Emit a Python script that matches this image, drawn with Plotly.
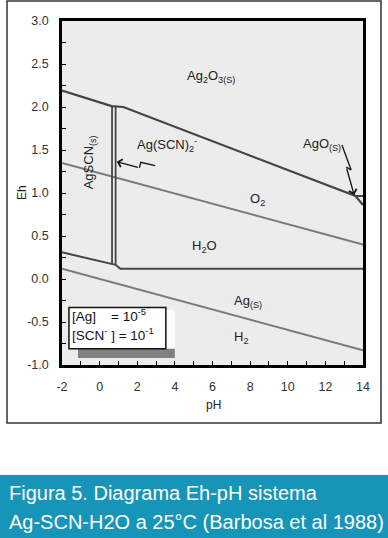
import plotly.graph_objects as go

# ---- data (pH, Eh) ----
upper_ph = [-2, 0.64, 1.26, 13.6, 14]
upper_eh = [2.19, 2.01, 2.0, 0.965, 0.86]
ago_ph = [13.6, 14]
ago_eh = [0.965, 0.965]
vert1_ph = [0.66, 0.66]
vert1_eh = [2.01, 0.175]
vert2_ph = [0.85, 0.85]
vert2_eh = [2.0, 0.165]
lower_ph = [-2, 0.66, 0.85, 1.1, 14]
lower_eh = [0.31, 0.18, 0.165, 0.12, 0.12]
o2_ph = [-2, 14]
o2_eh = [1.35, 0.40]
h2_ph = [-2, 14]
h2_eh = [0.12, -0.83]

arrow1_ph = [2.95, 2.19, 2.11]
arrow1_eh = [1.317, 1.357, 1.294]
arrow1_tip = (0.91, 1.364)
arrow2_ph = [12.88, 13.37, 13.11]
arrow2_eh = [1.558, 1.267, 1.302]
arrow2_tip = (13.53, 0.977)

labels = [
    ("Ag<sub>2</sub>O<sub>3(S)</sub>", 5.9, 2.35),
    ("Ag(SCN)<sub>2</sub><sup>-</sup>", 3.6, 1.56),
    ("AgO<sub>(S)</sub>", 11.8, 1.56),
    ("O<sub>2</sub>", 8.4, 0.93),
    ("H<sub>2</sub>O", 5.6, 0.38),
    ("Ag<sub>(S)</sub>", 7.9, -0.26),
    ("H<sub>2</sub>", 7.5, -0.68),
]

x_ticks = [-2, 0, 2, 4, 6, 8, 10, 12, 14]
y_ticks = [-1.0, -0.5, 0.0, 0.5, 1.0, 1.5, 2.0, 2.5, 3.0]

DARK = "#454545"
GRAY = "#7a7a7a"
FONT = "Arial, Liberation Sans"

fig = go.Figure()

def line(xs, ys, color, w):
    fig.add_trace(go.Scatter(x=xs, y=ys, mode="lines", line=dict(color=color, width=w),
                             showlegend=False, hoverinfo="skip", cliponaxis=False))

line(o2_ph, o2_eh, GRAY, 2)
line(h2_ph, h2_eh, GRAY, 2)
line(upper_ph, upper_eh, DARK, 2.2)
line(ago_ph, ago_eh, DARK, 2)
line(vert1_ph, vert1_eh, DARK, 1.8)
line(vert2_ph, vert2_eh, DARK, 1.8)
line(lower_ph, lower_eh, DARK, 2)
line(arrow1_ph, arrow1_eh, "#111", 1.3)
line(arrow2_ph, arrow2_eh, "#111", 1.3)

ann = []
# arrow heads
ann.append(dict(x=arrow1_tip[0], y=arrow1_tip[1], ax=arrow1_ph[-1], ay=arrow1_eh[-1],
                xref="x", yref="y", axref="x", ayref="y", showarrow=True, arrowhead=4,
                arrowsize=1.2, arrowwidth=1.3, arrowcolor="#111", text=""))
ann.append(dict(x=arrow2_tip[0], y=arrow2_tip[1], ax=arrow2_ph[-1], ay=arrow2_eh[-1],
                xref="x", yref="y", axref="x", ayref="y", showarrow=True, arrowhead=4,
                arrowsize=1.2, arrowwidth=1.3, arrowcolor="#111", text=""))

for t, x, y in labels:
    ann.append(dict(x=x, y=y, text=t, showarrow=False, xref="x", yref="y",
                    xanchor="center", yanchor="middle",
                    font=dict(family=FONT, size=13, color="#222")))
ann.append(dict(x=-0.55, y=1.36, text="AgSCN<sub>(s)</sub>", textangle=-90, showarrow=False,
                xanchor="center", yanchor="middle",
                xref="x", yref="y", font=dict(family=FONT, size=13, color="#222")))

# legend box text
ann.append(dict(x=-1.55, y=-0.42, text="[Ag]    = 10<sup>-5</sup>", showarrow=False,
                xanchor="left", yanchor="middle",
                xref="x", yref="y", font=dict(family=FONT, size=13.5, color="#111")))
ann.append(dict(x=-1.55, y=-0.64, text="[SCN<sup>-</sup> ] = 10<sup>-1</sup>", showarrow=False,
                xanchor="left", yanchor="middle",
                xref="x", yref="y", font=dict(family=FONT, size=13.5, color="#111")))

# axis titles
ann.append(dict(x=(22 - 62) / 301, y=(365 - 193) / 344, xref="paper", yref="paper", text="Eh",
                xanchor="center", yanchor="middle",
                textangle=-90, showarrow=False, font=dict(family=FONT, size=12, color="#222")))
ann.append(dict(x=(213 - 62) / 301, y=(365 - 405) / 344, xref="paper", yref="paper", text="pH",
                xanchor="center", yanchor="middle",
                showarrow=False, font=dict(family=FONT, size=12, color="#222")))

# caption
ann.append(dict(x=(7 - 62) / 301, y=(365 - 493) / 344, xref="paper", yref="paper",
                xanchor="left", yanchor="middle",
                text="Figura 5. Diagrama Eh-pH sistema", showarrow=False,
                font=dict(family=FONT, size=20, color="white")))
ann.append(dict(x=(7 - 62) / 301, y=(365 - 522) / 344, xref="paper", yref="paper",
                xanchor="left", yanchor="middle",
                text="Ag-SCN-H2O a 25°C (Barbosa et al 1988)", showarrow=False,
                font=dict(family=FONT, size=20, color="white")))

shapes = [
    # outer frame
    dict(type="rect", xref="paper", yref="paper", x0=(7 - 62) / 301, x1=(381 - 62) / 301,
         y0=(365 - 423) / 344, y1=(365 - 1) / 344, line=dict(color="#333", width=1.5),
         fillcolor="rgba(0,0,0,0)", layer="below"),
    # caption band
    dict(type="rect", xref="paper", yref="paper", x0=-0.3, x1=1.2,
         y0=(365 - 545) / 344, y1=(365 - 475) / 344, line=dict(width=0),
         fillcolor="#1795b8", layer="above"),
    # legend shadow
    dict(type="rect", xref="x", yref="y", x0=-1.15, x1=4.0, y0=-0.92, y1=-0.36,
         line=dict(width=0), fillcolor="#fbfbfb", layer="above"),
    dict(type="rect", xref="x", yref="y", x0=-1.15, x1=4.0, y0=-0.92, y1=-0.81,
         line=dict(width=0), fillcolor="#808080", layer="above"),
    # legend box
    dict(type="rect", xref="x", yref="y", x0=-1.63, x1=3.52, y0=-0.81, y1=-0.33,
         line=dict(color="#111", width=1.5), fillcolor="white", layer="above"),
]

axis_common = dict(showline=True, linecolor="black", linewidth=2.5, mirror=True,
                   ticks="inside", ticklen=4, tickcolor="black", tickwidth=1.2,
                   showgrid=False, zeroline=False,
                   tickfont=dict(family=FONT, size=12.5, color="#333"))

fig.update_layout(
    width=388, height=538,
    margin=dict(l=62, r=25, t=21, b=173),
    paper_bgcolor="white", plot_bgcolor="#ececec",
    showlegend=False,
    xaxis=dict(range=[-2, 14], tickvals=x_ticks, ticktext=[str(v) for v in x_ticks],
               minor=dict(dtick=1, ticks="inside", ticklen=4, tickcolor="black"),
               ticklabelstandoff=8, **axis_common),
    yaxis=dict(range=[-1, 3], tickvals=y_ticks, ticktext=[f"{v:.1f}" for v in y_ticks],
               minor=dict(dtick=0.25, ticks="inside", ticklen=4, tickcolor="black"),
               ticklabelstandoff=8, **axis_common),
    shapes=shapes, annotations=ann,
)

fig.write_html("out.html", config={"displayModeBar": False},
               post_script="document.body.style.margin='0';document.body.style.overflow='hidden';")
